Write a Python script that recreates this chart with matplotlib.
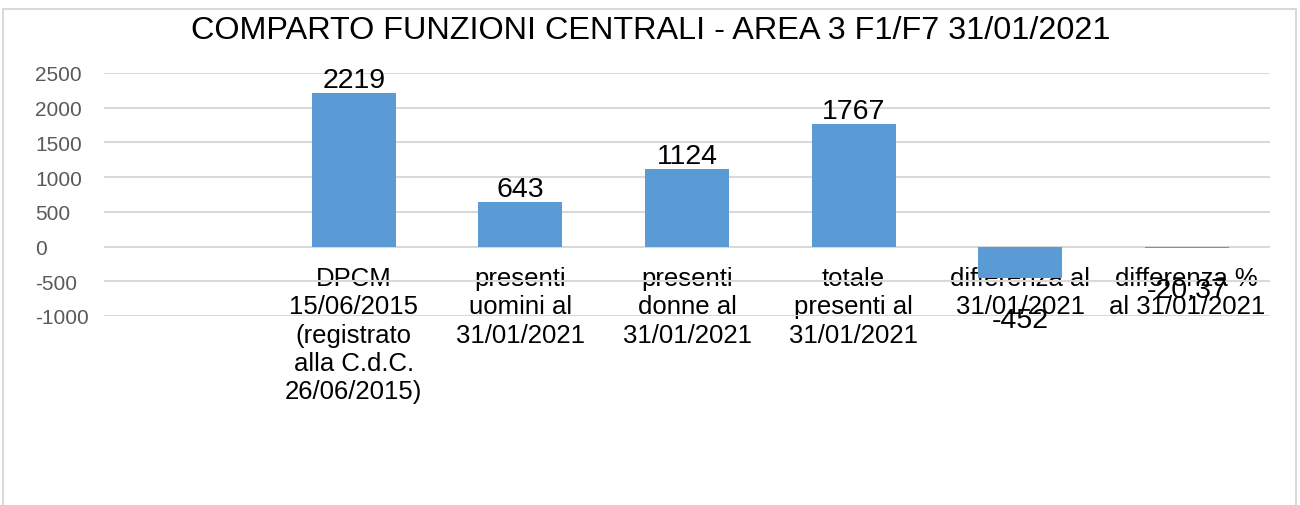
import matplotlib
matplotlib.use("Agg")
import matplotlib.pyplot as plt
from matplotlib.patches import Rectangle

categories = ["",
              "DPCM\n15/06/2015\n(registrato\nalla C.d.C.\n26/06/2015)",
              "presenti\nuomini al\n31/01/2021",
              "presenti\ndonne al\n31/01/2021",
              "totale\npresenti al\n31/01/2021",
              "differenza al\n31/01/2021",
              "differenza %\nal 31/01/2021"]
values = [None, 2219, 643, 1124, 1767, -452, -20.37]
value_labels = ["", "2219", "643", "1124", "1767", "-452", "-20.37"]
yticks = [-1000, -500, 0, 500, 1000, 1500, 2000, 2500]

plt.rcParams['font.family'] = ['Liberation Sans', 'DejaVu Sans']

W, H = 1300, 506
fig = plt.figure(figsize=(W / 100, H / 100), dpi=100)
fig.patch.set_facecolor("white")

# chart border
fig.add_artist(Rectangle((3 / W, -0.05), (1296 - 3) / W, 1.05 - 10 / H,
                         transform=fig.transFigure, fill=False,
                         edgecolor="#d9d9d9", linewidth=1.5))

left, right, top, bottom = 104, 1270, 74, 317
ax = fig.add_axes([left / W, 1 - bottom / H, (right - left) / W, (bottom - top) / H])
ax.set_facecolor("none")

xs = list(range(len(categories)))
bar_x = [x for x, v in zip(xs, values) if v is not None]
bar_v = [v for v in values if v is not None]
ax.bar(bar_x, bar_v, width=0.505, color="#5b9bd5", zorder=3)

ax.set_xlim(-0.5, len(categories) - 0.5)
ax.set_ylim(-1000, 2500)
ax.set_yticks(yticks)
ax.set_yticklabels([str(t) for t in yticks], fontsize=15, color="#595959",
                   ha="left")
ax.tick_params(axis="y", length=0, pad=49.7)
ax.yaxis.grid(True, color="#d9d9d9", linewidth=1.5, zorder=0)
ax.set_axisbelow(True)

for s in ["left", "right", "top"]:
    ax.spines[s].set_visible(False)
ax.spines["bottom"].set_position(("data", 0))
ax.spines["bottom"].set_visible(False)
ax.set_xticks(xs)
ax.set_xticklabels(categories, fontsize=18.5, color="black", linespacing=1.23,
                   va="top")
ax.tick_params(axis="x", length=0, pad=14)

for x, v, lab in zip(xs, values, value_labels):
    if v is None:
        continue
    if v >= 0:
        ax.annotate(lab, (x, v), xytext=(0, 6), textcoords="offset pixels",
                    ha="center", va="baseline", fontsize=20.5, color="black",
                    zorder=5)
    else:
        ax.annotate(lab, (x, v), xytext=(0, -29), textcoords="offset pixels",
                    ha="center", va="top", fontsize=20.5, color="black",
                    zorder=5)

fig.text(651 / W, 1 - 31 / H, "COMPARTO FUNZIONI CENTRALI - AREA 3 F1/F7 31/01/2021",
         ha="center", va="center", fontsize=23.3, color="black")

fig.savefig("out.png", dpi=100)
